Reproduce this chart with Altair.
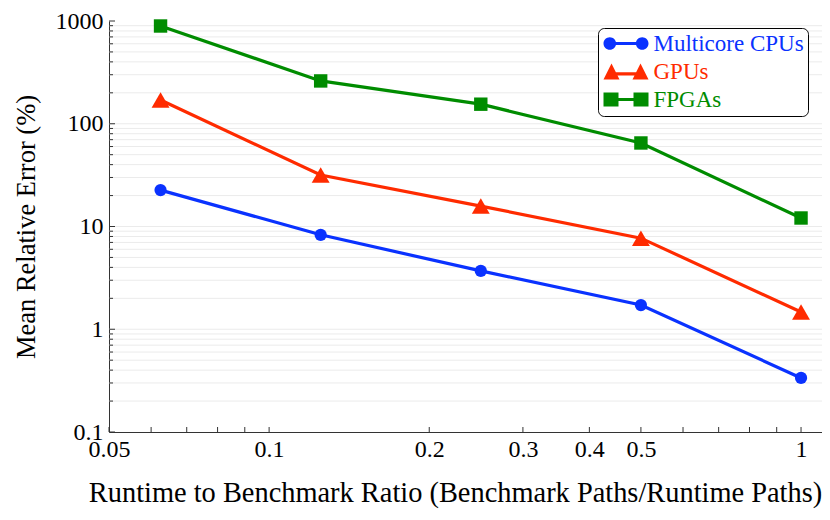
import altair as alt
import pandas as pd

# ---- data ----
ratio = [0.0625, 0.125, 0.25, 0.5, 1.0]
series = ["Multicore CPUs", "GPUs", "FPGAs"]
cpu_err = [22.6, 8.3, 3.7, 1.72, 0.336]
gpu_err = [170, 31.7, 15.8, 7.7, 1.47]
fpga_err = [894, 261, 155, 65, 12.1]
colors = ["#0a32ff", "#ff2b00", "#008c00"]
marker_shapes = ["circle", "triangle-up", "square"]
marker_sizes = [150, 320, 180]

x_labels = [0.05, 0.1, 0.2, 0.3, 0.4, 0.5, 1]
x_ticks = [0.05, 0.06, 0.07, 0.08, 0.09, 0.1, 0.2, 0.3, 0.4, 0.5, 0.6, 0.7, 0.8, 0.9, 1]
y_labels = [0.1, 1, 10, 100, 1000]
y_minor = [m * d for d in [0.1, 1, 10, 100] for m in range(2, 10)]
grid_vals = y_minor + [1, 10, 100]

rows = []
for name, vals in zip(series, [cpu_err, gpu_err, fpga_err]):
    for r, v in zip(ratio, vals):
        rows.append({"ratio": r, "err": v, "series": name})
df = pd.DataFrame(rows)

W, H = 713, 411
FONT = "Liberation Serif"

xs = alt.Scale(type="log", domain=[0.05, 1.095], nice=False)
ys = alt.Scale(type="log", domain=[0.1, 1000], nice=False)
cs = alt.Scale(domain=series, range=colors)

x_axis = alt.Axis(
    values=x_labels,
    format="~g",
    ticks=False,
    grid=False,
    labelFlush=False,
    labelPadding=5,
    titlePadding=18,
    labelFontSize=24,
    titleFontSize=28.4,
    titleX=346,
    titleAlign="center",
)
y_axis = alt.Axis(
    values=y_labels,
    format="~g",
    ticks=False,
    grid=False,
    labelFlush=False,
    labelPadding=6,
    titlePadding=15,
    labelFontSize=24,
    titleFontSize=26.5,
)
XT = "Runtime to Benchmark Ratio (Benchmark Paths/Runtime Paths)"
YT = "Mean Relative Error (%)"

# legend glyphs (line with a marker at each end); unit = 10 px (symbolSize 400)
def _f(v):
    return ("%.3f" % v).rstrip("0").rstrip(".")

def _rect(x0, y0, x1, y1):
    return "M%s,%s L%s,%s L%s,%s L%s,%s Z" % (
        _f(x0), _f(y0), _f(x1), _f(y0), _f(x1), _f(y1), _f(x0), _f(y1))

def _circle(cx, r):
    return "M%s,0 A%s,%s 0 1,1 %s,0 A%s,%s 0 1,1 %s,0 Z" % (
        _f(cx - r), _f(r), _f(r), _f(cx + r), _f(r), _f(r), _f(cx - r))

def _tri(cx, hw, hh):
    return "M%s,%s L%s,%s L%s,%s Z" % (
        _f(cx - hw), _f(hh), _f(cx), _f(-hh), _f(cx + hw), _f(hh))

p_circle = " ".join([_rect(-1.62, -0.16, 1.62, 0.16), _circle(-1.62, 0.63), _circle(1.62, 0.63)])
p_tri = " ".join([_tri(-1.45, 0.8, 0.8), _tri(1.45, 0.8, 0.8), _rect(-1.45, 0.08, 1.45, 0.4)])
p_sq = " ".join([_rect(-2.25, -0.7, -0.75, 0.7), _rect(0.75, -0.7, 2.25, 0.7), _rect(-0.75, -0.16, 0.75, 0.16)])

shape_expr = (
    "datum.value === 'GPUs' ? '" + p_tri + "' : (datum.value === 'FPGAs' ? '" + p_sq + "' : '" + p_circle + "')"
)
color_expr = (
    "datum.value === 'GPUs' ? '" + colors[1] + "' : (datum.value === 'FPGAs' ? '" + colors[2] + "' : '" + colors[0] + "')"
)

legend = alt.Legend(
    title=None,
    orient="none",
    legendX=489,
    legendY=7,
    symbolSize=400,
    symbolOffset=12.5,
    symbolType=alt.ExprRef(shape_expr),
    symbolFillColor=alt.ExprRef(color_expr),
    symbolStrokeColor=alt.ExprRef(color_expr),
    symbolStrokeWidth=0,
    symbolOpacity=1,
    labelColor=alt.ExprRef(color_expr),
    labelFont=FONT,
    labelFontSize=23,
    labelOffset=16,
    padding=4,
    rowPadding=4,
    strokeColor="black",
    fillColor="white",
    cornerRadius=6,
)

grid = alt.Chart(pd.DataFrame({"g": grid_vals})).mark_rule(
    color="#ebebeb", strokeWidth=1
).encode(y=alt.Y("g:Q", scale=ys, axis=y_axis, title=YT))

ytick_major = alt.Chart(pd.DataFrame({"v": y_labels})).mark_rule(
    color="#333", strokeWidth=1
).encode(y=alt.Y("v:Q", scale=ys, axis=y_axis, title=YT), x=alt.value(0), x2=alt.value(6))

ytick_minor = alt.Chart(pd.DataFrame({"v": y_minor})).mark_rule(
    color="#333", strokeWidth=1
).encode(y=alt.Y("v:Q", scale=ys, axis=y_axis, title=YT), x=alt.value(0), x2=alt.value(4))

xtick = alt.Chart(pd.DataFrame({"t": x_ticks})).mark_rule(
    color="#333", strokeWidth=1
).encode(x=alt.X("t:Q", scale=xs, axis=x_axis, title=XT), y=alt.value(H), y2=alt.value(H - 5))

lines = alt.Chart(df).mark_line(strokeWidth=3.2).encode(
    x=alt.X("ratio:Q", scale=xs, axis=x_axis, title=XT),
    y=alt.Y("err:Q", scale=ys, axis=y_axis, title=YT),
    color=alt.Color("series:N", scale=cs, legend=legend),
    detail="series:N",
)

point_layers = []
for name, shp, sz in zip(series, marker_shapes, marker_sizes):
    point_layers.append(
        alt.Chart(df)
        .transform_filter(alt.datum.series == name)
        .mark_point(shape=shp, size=sz, filled=True, opacity=1)
        .encode(
            x=alt.X("ratio:Q", scale=xs, axis=x_axis, title=XT),
            y=alt.Y("err:Q", scale=ys, axis=y_axis, title=YT),
            color=alt.Color("series:N", scale=cs, legend=legend),
        )
    )

chart = (
    alt.layer(grid, ytick_minor, ytick_major, xtick, lines, *point_layers)
    .properties(
        width=W,
        height=H,
        autosize=alt.AutoSizeParams(type="none"),
        padding={"left": 101, "top": 13, "right": 0, "bottom": 80},
    )
    .configure_view(stroke=None)
    .configure_axis(
        labelFont=FONT,
        titleFont=FONT,
        titleFontWeight="normal",
        labelColor="black",
        titleColor="black",
        domainColor="#333",
        domainWidth=1,
    )
)

chart.save("out.html", embed_options={"renderer": "svg", "actions": False})
